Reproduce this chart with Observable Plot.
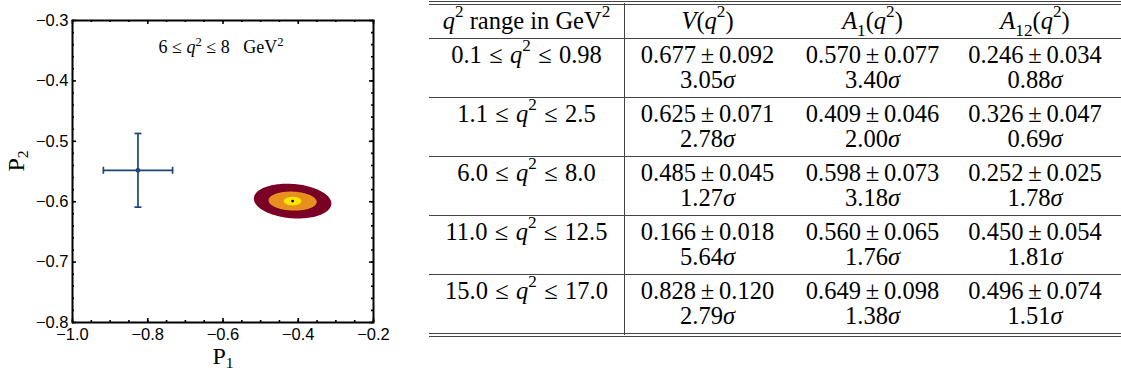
<!DOCTYPE html>
<html>
<head>
<meta charset="utf-8">
<script src="https://cdn.jsdelivr.net/npm/d3@7"></script>
<script src="https://cdn.jsdelivr.net/npm/@observablehq/plot@0.6"></script>
<style>
  body { margin: 0; background: #fff; }
  #wrap { position: relative; width: 1121px; height: 374px; overflow: hidden; background: #fff; }
  #chart { position: absolute; left: 0; top: 0; }
  #tbl { position: absolute; left: 429px; top: 1px; border-collapse: separate; border-spacing: 0;
         table-layout: fixed; width: 692px;
         font-family: "Liberation Serif", "Times New Roman", serif; font-size: 24.5px; color: #000; }
  #tbl td { padding: 0; text-align: center; vertical-align: top; border-bottom: 1px solid #444; }
  #tbl td.first { border-right: 1px solid #444; }
  #tbl tr.head td { border-top: 4px double #444; }
  #tbl tr.last td { border-bottom: 4px double #444; }
  #tbl .c { box-sizing: border-box; line-height: 25px; padding-top: 4px; white-space: nowrap; }
  #tbl tr.head .c { height: 33px; padding-top: 3px; }
  #tbl tr.row .c { height: 58px; padding-top: 3px; }
  #tbl td.lastcol .c { padding-right: 6px; }
  #tbl sup { font-size: 0.7em; line-height: 0; position: relative; top: -0.15em; vertical-align: super; }
  #tbl sub { font-size: 0.7em; line-height: 0; position: relative; top: 0.05em; vertical-align: sub; }
  #tbl .pm { margin: 0 0.2em; }
  #tbl .rel { margin: 0 0.3em; }
</style>
</head>
<body>
<div id="wrap">
  <div id="chart"></div>
  <table id="tbl"></table>
</div>
<script>
// ---------------- Chart data ----------------
const xDomain = [-1.0, -0.2];
const yDomain = [-0.8, -0.3];
const xMajorTicks = [-1.0, -0.8, -0.6, -0.4, -0.2];
const yMajorTicks = [-0.8, -0.7, -0.6, -0.5, -0.4, -0.3];
const xMinorStep = 0.05;
const yMinorStep = 0.02;

// measured (P1, P2) with uncertainties
const measP1 = [-0.826];
const measP2 = [-0.548];
const measErrP1 = [0.092];
const measErrP2 = [0.061];

// predicted region: centre and 1σ/2σ/3σ contour half-widths
const predP1 = [-0.415];
const predP2 = [-0.599];
const contourLevels = ["3σ", "2σ", "1σ"];
const contourColors = ["#7a0025", "#e8901f", "#ffe600"];
const contourHalfP1 = [0.103, 0.064, 0.0235];
const contourHalfP2 = [0.0285, 0.0157, 0.0071];
const contourTilt = [-0.04, -0.02, 0];

const panelLabel = "6 ≤ q2 ≤ 8 GeV2";

// ---------------- Table data ----------------
const tableHeaders = ["q2 range in GeV2", "V(q2)", "A1(q2)", "A12(q2)"];
const qLow  = ["0.1", "1.1", "6.0", "11.0", "15.0"];
const qHigh = ["0.98", "2.5", "8.0", "12.5", "17.0"];
const V_val   = [0.677, 0.625, 0.485, 0.166, 0.828];
const V_err   = [0.092, 0.071, 0.045, 0.018, 0.120];
const V_sig   = [3.05, 2.78, 1.27, 5.64, 2.79];
const A1_val  = [0.570, 0.409, 0.598, 0.560, 0.649];
const A1_err  = [0.077, 0.046, 0.073, 0.065, 0.098];
const A1_sig  = [3.40, 2.00, 3.18, 1.76, 1.38];
const A12_val = [0.246, 0.326, 0.252, 0.450, 0.496];
const A12_err = [0.034, 0.047, 0.025, 0.054, 0.074];
const A12_sig = [0.88, 0.69, 1.78, 1.81, 1.51];

// ---------------- Build chart ----------------
const W = 400, H = 374, mL = 72, mR = 27, mT = 20, mB = 52;
const FW = W - mL - mR, FH = H - mT - mB;
const xMinor = d3.range(Math.round((xDomain[1] - xDomain[0]) / xMinorStep) + 1).map(i => +(xDomain[0] + i * xMinorStep).toFixed(3));
const yMinor = d3.range(Math.round((yDomain[1] - yDomain[0]) / yMinorStep) + 1).map(i => +(yDomain[0] + i * yMinorStep).toFixed(3));

const contourPts = [];
contourLevels.forEach((lvl, i) => {
  for (let k = 0; k < 120; k++) {
    const t = (k / 120) * 2 * Math.PI;
    const dx = contourHalfP1[i] * Math.cos(t);
    const dy = contourHalfP2[i] * Math.sin(t) + contourTilt[i] * dx;
    contourPts.push({level: lvl, P1: predP1[0] + dx, P2: predP2[0] + dy});
  }
});

const meas = measP1.map((p, i) => ({P1: p, P2: measP2[i], eP1: measErrP1[i], eP2: measErrP2[i]}));
const pred = predP1.map((p, i) => ({P1: p, P2: predP2[i]}));

const vCap = {draw(ctx, size) { const r = Math.sqrt(size / Math.PI); ctx.moveTo(0, -r); ctx.lineTo(0, r); }};
const hCap = {draw(ctx, size) { const r = Math.sqrt(size / Math.PI); ctx.moveTo(-r, 0); ctx.lineTo(r, 0); }};
const blue = "#1d4676";
const serif = "Liberation Serif, Times New Roman, serif";

const majLen = 4, minLen = 2;
const tickMarks = [
  Plot.ruleX(xMinor, {x: d => d, insetTop: FH - minLen, stroke: "#000", strokeWidth: 1.6}),
  Plot.ruleX(xMinor, {x: d => d, insetBottom: FH - minLen, stroke: "#000", strokeWidth: 1.6}),
  Plot.ruleX(xMajorTicks, {x: d => d, insetTop: FH - majLen, stroke: "#000", strokeWidth: 1.6}),
  Plot.ruleX(xMajorTicks, {x: d => d, insetBottom: FH - majLen, stroke: "#000", strokeWidth: 1.6}),
  Plot.ruleY(yMinor, {y: d => d, insetRight: FW - minLen, stroke: "#000", strokeWidth: 1.6}),
  Plot.ruleY(yMinor, {y: d => d, insetLeft: FW - minLen, stroke: "#000", strokeWidth: 1.6}),
  Plot.ruleY(yMajorTicks, {y: d => d, insetRight: FW - majLen, stroke: "#000", strokeWidth: 1.6}),
  Plot.ruleY(yMajorTicks, {y: d => d, insetLeft: FW - majLen, stroke: "#000", strokeWidth: 1.6})
];

const chart = Plot.plot({
  width: W, height: H,
  marginLeft: mL, marginRight: mR, marginTop: mT, marginBottom: mB,
  style: {fontFamily: "Liberation Sans, Arial, sans-serif", fontSize: "16.5px", color: "#000", background: "#fff", overflow: "visible"},
  x: {domain: xDomain},
  y: {domain: yDomain},
  marks: [
    ...contourLevels.map((lvl, i) =>
      Plot.line(contourPts.filter(d => d.level === lvl), {x: "P1", y: "P2", fill: contourColors[i], stroke: "none", curve: "linear-closed"})),
    Plot.dot(pred, {x: "P1", y: "P2", r: 1.4, fill: "#000"}),
    Plot.link(meas, {x1: d => d.P1 - d.eP1, x2: d => d.P1 + d.eP1, y1: "P2", y2: "P2", stroke: blue, strokeWidth: 1.7}),
    Plot.link(meas, {x1: "P1", x2: "P1", y1: d => d.P2 - d.eP2, y2: d => d.P2 + d.eP2, stroke: blue, strokeWidth: 1.7}),
    Plot.dot(meas, {x: d => d.P1 - d.eP1, y: "P2", symbol: vCap, r: 3.5, fill: "none", stroke: blue, strokeWidth: 1.7}),
    Plot.dot(meas, {x: d => d.P1 + d.eP1, y: "P2", symbol: vCap, r: 3.5, fill: "none", stroke: blue, strokeWidth: 1.7}),
    Plot.dot(meas, {x: "P1", y: d => d.P2 - d.eP2, symbol: hCap, r: 3.5, fill: "none", stroke: blue, strokeWidth: 1.7}),
    Plot.dot(meas, {x: "P1", y: d => d.P2 + d.eP2, symbol: hCap, r: 3.5, fill: "none", stroke: blue, strokeWidth: 1.7}),
    Plot.dot(meas, {x: "P1", y: "P2", r: 2.4, fill: blue}),
    ...tickMarks,
    Plot.frame({stroke: "#000", strokeWidth: 2}),
    Plot.axisX(xMajorTicks, {tickSize: 0, tickPadding: 6, tickFormat: d3.format(".1f"), label: null, fontSize: 16.5}),
    Plot.axisY(yMajorTicks, {tickSize: 0, tickPadding: 4, tickFormat: d3.format(".1f"), label: null, fontSize: 16.5}),
    Plot.text(["P1"], {frameAnchor: "bottom", dy: 41, text: d => d, fontFamily: serif, fontSize: 24, ariaDescription: "xlabel"}),
    Plot.text(["P2"], {frameAnchor: "left", dx: -56, rotate: -90, text: d => d, fontFamily: serif, fontSize: 24, ariaDescription: "ylabel"}),
    Plot.text([panelLabel], {frameAnchor: "top", dy: 20, dx: -2, text: d => d, fontFamily: serif, fontSize: 18, ariaDescription: "panel"})
  ]
});
document.getElementById("chart").appendChild(chart);

// rich text (italic, sub/superscripts) inside SVG text elements
function richSVG(label, parts) {
  const t = chart.querySelector(`g[aria-description="${label}"] text`);
  if (!t) return;
  t.textContent = "";
  let shift = 0;
  for (const p of parts) {
    const ts = document.createElementNS("http://www.w3.org/2000/svg", "tspan");
    ts.textContent = p.t;
    let target = 0;
    if (p.i) ts.setAttribute("font-style", "italic");
    if (p.sup) { target = -p.sup; ts.setAttribute("font-size", "70%"); }
    if (p.sub) { target = p.sub; ts.setAttribute("font-size", "65%"); }
    if (target !== shift) { ts.setAttribute("dy", String(target - shift)); shift = target; }
    t.appendChild(ts);
  }
}
richSVG("xlabel", [{t: "P"}, {t: "1", sub: 4}]);
richSVG("ylabel", [{t: "P"}, {t: "2", sub: 4}]);
richSVG("panel", [{t: "6 ≤ "}, {t: "q", i: true}, {t: "2", sup: 7}, {t: " ≤ 8\u2002 GeV"}, {t: "2", sup: 7}]);

// ---------------- Build table ----------------
const f3 = d3.format(".3f"), f2 = d3.format(".2f");
const q2 = `<i>q</i><sup>2</sup>`;
const headHTML = [
  `${q2} range in GeV<sup>2</sup>`,
  `<i>V</i>(${q2})`,
  `<i>A</i><sub>1</sub>(${q2})`,
  `<i>A</i><sub>12</sub>(${q2})`
];
const valCell = (v, e, s) => `${f3(v)}<span class="pm">±</span>${f3(e)}<br>${f2(s)}<i>σ</i>`;
let html = `<colgroup><col style="width:196px"><col style="width:165px"><col style="width:165px"><col style="width:166px"></colgroup>`;
html += `<tr class="head">` + headHTML.map((h, j) =>
  `<td class="${j === 0 ? "first" : ""}${j === 3 ? " lastcol" : ""}"><div class="c">${h}</div></td>`).join("") + `</tr>`;
qLow.forEach((lo, i) => {
  const cls = i === qLow.length - 1 ? "row last" : "row";
  html += `<tr class="${cls}">` +
    `<td class="first"><div class="c">${lo}<span class="rel">≤</span>${q2}<span class="rel">≤</span>${qHigh[i]}</div></td>` +
    `<td><div class="c">${valCell(V_val[i], V_err[i], V_sig[i])}</div></td>` +
    `<td><div class="c">${valCell(A1_val[i], A1_err[i], A1_sig[i])}</div></td>` +
    `<td class="lastcol"><div class="c">${valCell(A12_val[i], A12_err[i], A12_sig[i])}</div></td>` +
    `</tr>`;
});
document.getElementById("tbl").innerHTML = html;
</script>
</body>
</html>
